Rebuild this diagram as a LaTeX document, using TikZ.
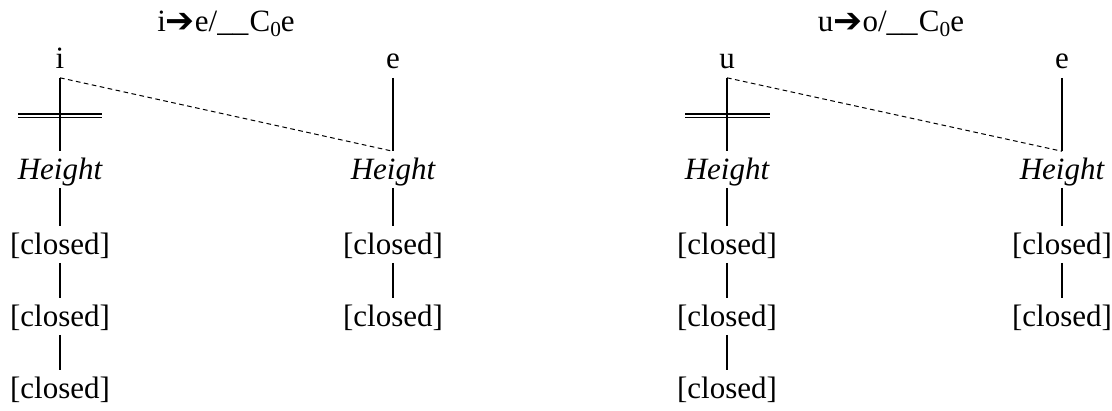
\documentclass[tikz,border=0pt]{standalone}
\usepackage{fontspec}
\setmainfont{Liberation Serif}
\newfontfamily\arrowfont{DejaVu Sans}
\begin{document}
\begin{tikzpicture}[x=0.75pt,y=-0.75pt,
  lbl/.style={inner sep=0pt,anchor=base,text height=20.6pt,text depth=6.4pt,font=\fontsize{23.25}{28}\selectfont},
  ttl/.style={inner sep=0pt,anchor=base,font=\fontsize{23.25}{28}\selectfont},
  stem/.style={line width=1.4pt},
  assoc/.style={line width=0.75pt,dash pattern=on 3.5pt off 2.6pt},
  bar/.style={line width=1.2pt}]
\useasboundingbox (0,0) rectangle (1112,410);
\newcommand{\arr}{\raisebox{-0.5pt}{\arrowfont\bfseries\fontsize{26}{28}\selectfont ➔}}
\newcommand{\sbz}{\raisebox{-3pt}{\fontsize{16}{18}\selectfont 0}}
% ---------- left diagram ----------
\node[ttl] (t1) at (226,32) {i\arr e/\_\_\kern1pt C\sbz e};
\node[lbl] (i)  at (60,69) {i};
\node[lbl] (h1) at (60,179) {\itshape Height};
\node[lbl] (a1) at (60,254) {[closed]};
\node[lbl] (a2) at (60,326) {[closed]};
\node[lbl] (a3) at (60,398) {[closed]};
\node[lbl] (e1) at (393,69) {e};
\node[lbl] (h2) at (393,179) {\itshape Height};
\node[lbl] (b1) at (393,254) {[closed]};
\node[lbl] (b2) at (393,326) {[closed]};
\draw[stem] (i.south) -- (h1.north);
\draw[stem] (h1.south) -- (a1.north);
\draw[stem] (a1.south) -- (a2.north);
\draw[stem] (a2.south) -- (a3.north);
\draw[stem] (e1.south) -- (h2.north);
\draw[stem] (h2.south) -- (b1.north);
\draw[stem] (b1.south) -- (b2.north);
\draw[assoc] (i.south) -- (h2.north);
\draw[bar] (18,114) -- (102,114);
\draw[bar] (18,117.5) -- (102,117.5);
% ---------- right diagram ----------
\node[ttl] (t2) at (891,32) {u\arr o/\_\_\kern1pt C\sbz e};
\node[lbl] (u)  at (727,69) {u};
\node[lbl] (h3) at (727,179) {\itshape Height};
\node[lbl] (c1) at (727,254) {[closed]};
\node[lbl] (c2) at (727,326) {[closed]};
\node[lbl] (c3) at (727,398) {[closed]};
\node[lbl] (e2) at (1062,69) {e};
\node[lbl] (h4) at (1062,179) {\itshape Height};
\node[lbl] (d1) at (1062,254) {[closed]};
\node[lbl] (d2) at (1062,326) {[closed]};
\draw[stem] (u.south) -- (h3.north);
\draw[stem] (h3.south) -- (c1.north);
\draw[stem] (c1.south) -- (c2.north);
\draw[stem] (c2.south) -- (c3.north);
\draw[stem] (e2.south) -- (h4.north);
\draw[stem] (h4.south) -- (d1.north);
\draw[stem] (d1.south) -- (d2.north);
\draw[assoc] (u.south) -- (h4.north);
\draw[bar] (685,114) -- (770,114);
\draw[bar] (685,117.5) -- (770,117.5);
\end{tikzpicture}
\end{document}
